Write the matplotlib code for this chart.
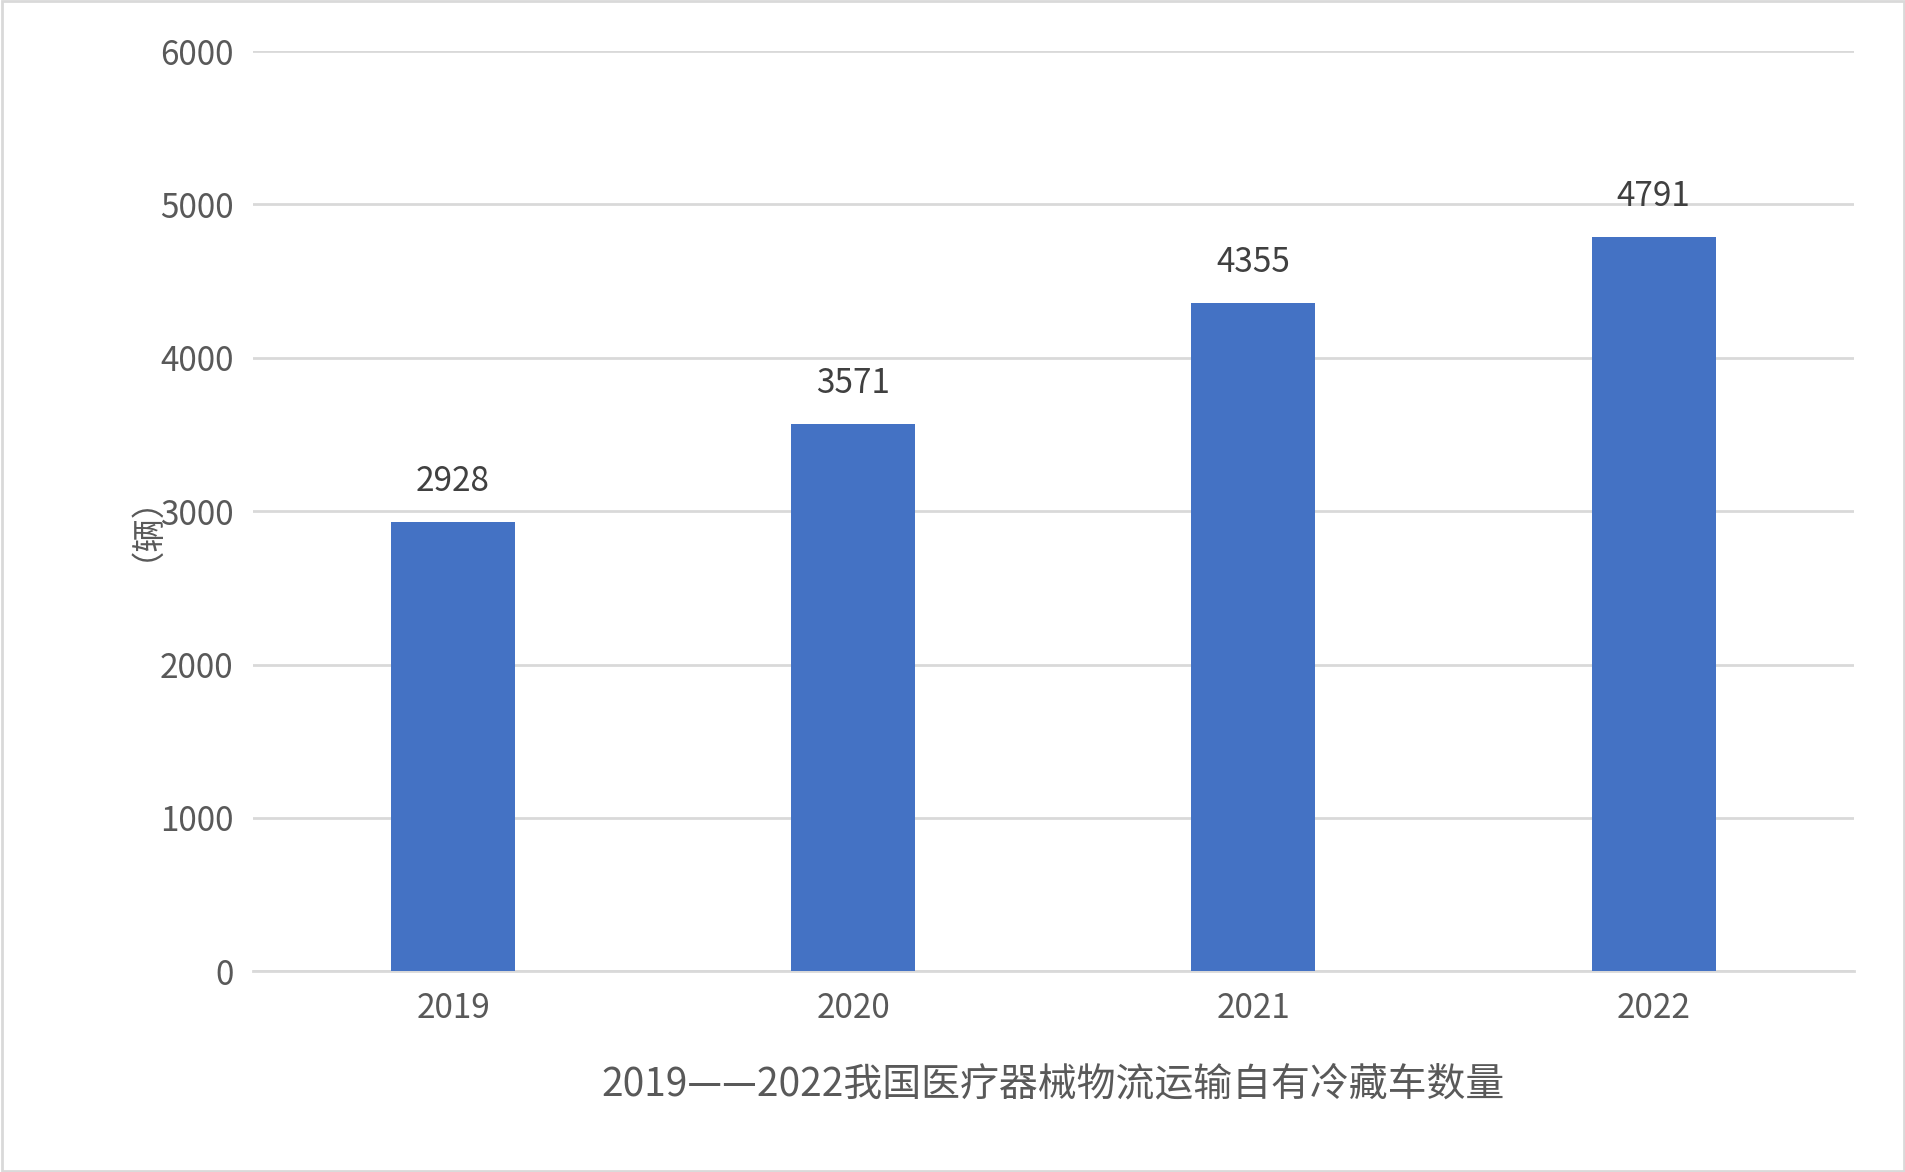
import matplotlib.pyplot as plt
import matplotlib.patches as mpatches

years = ['2019', '2020', '2021', '2022']
counts = [2928, 3571, 4355, 4791]
yticks = [0, 1000, 2000, 3000, 4000, 5000, 6000]

plt.rcParams['font.family'] = ['Noto Sans CJK SC']

fig = plt.figure(figsize=(19.06, 11.72), dpi=100)
ax = fig.add_axes([0.1327, 0.1712, 0.8399, 0.7852])

x = range(len(years))
bars = ax.bar(x, counts, width=0.31, color='#4472C4', zorder=3)
for xi, v in zip(x, counts):
    ax.text(xi, v + 150, str(v), ha='center', va='bottom', fontsize=24, color='#404040')

ax.set_xlim(-0.5, 3.5)
ax.set_ylim(0, 6000)
ax.set_yticks(yticks)
ax.set_xticks(list(x))
ax.set_xticklabels(years)
ax.tick_params(axis='both', length=0, labelsize=24, labelcolor='#595959', pad=14)
ax.grid(axis='y', color='#D9D9D9', linewidth=2, zorder=0)
for s in ['top', 'right', 'left']:
    ax.spines[s].set_visible(False)
ax.spines['bottom'].set_color('#D9D9D9')
ax.spines['bottom'].set_linewidth(2)

ax.set_ylabel('（辆）', fontsize=24, color='#595959', labelpad=10)
ax.set_xlabel('2019——2022我国医疗器械物流运输自有冷藏车数量', fontsize=28,
              color='#595959', labelpad=28)

fig.patches.append(mpatches.Rectangle((0.001, 0.001), 0.998, 0.998, transform=fig.transFigure,
                                      fill=False, edgecolor='#D9D9D9', linewidth=2))

fig.savefig('out.png', dpi=100)
